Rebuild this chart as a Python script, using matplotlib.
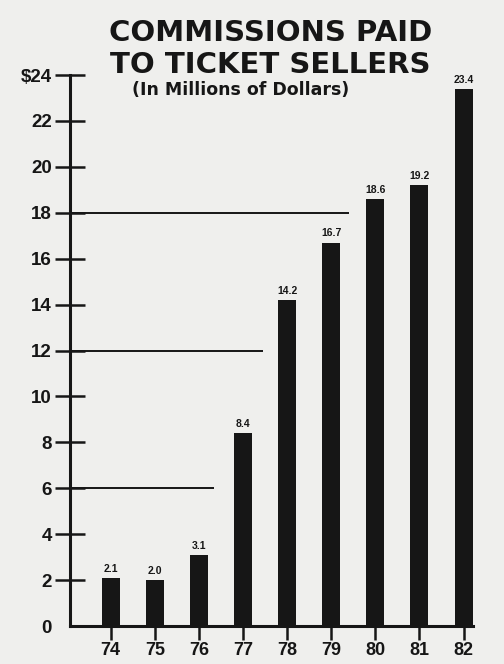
"""Commissions paid to ticket sellers, 1974-82 (newspaper bar chart)."""

import matplotlib

matplotlib.use("Agg")

import matplotlib.pyplot as plt

years = ["74", "75", "76", "77", "78", "79", "80", "81", "82"]
commissions = [2.1, 2.0, 3.1, 8.4, 14.2, 16.7, 18.6, 19.2, 23.4]
value_labels = ["2.1", "2.0", "3.1", "8.4", "14.2", "16.7", "18.6", "19.2", "23.4"]
y_ticks = list(range(0, 25, 2))
y_tick_labels = ["0", "2", "4", "6", "8", "10", "12", "14", "16", "18", "20", "22", "$24"]
# decorative rules: level and where they stop (in bar-index units)
rule_levels = [6, 12, 18]
rule_ends = [2.35, 3.46, 5.41]

PAPER = "#efefed"
INK = "#161616"
FONT = "Liberation Sans"
HEAVY = "DejaVu Sans"

fig = plt.figure(figsize=(5.04, 6.64), dpi=100, facecolor=PAPER)
ax = fig.add_axes((0.139, 0.0572, 0.80, 0.8298), facecolor=PAPER)

x = list(range(len(years)))
ax.bar(x, commissions, width=0.41, color=INK, zorder=3)

for xi, val, txt in zip(x, commissions, value_labels):
    ax.annotate(
        txt,
        xy=(xi, val),
        xytext=(0, 3),
        textcoords="offset points",
        ha="center",
        va="bottom",
        fontsize=7.5,
        fontweight="bold",
        family=FONT,
        color=INK,
    )

x_left = -0.92
for level, end in zip(rule_levels, rule_ends):
    ax.plot([x_left, end], [level, level], color=INK, linewidth=1.4, zorder=2,
            solid_capstyle="butt")

ax.set_xlim(x_left, 8.22)
ax.set_ylim(0, 24)

for side in ("top", "right"):
    ax.spines[side].set_visible(False)
for side in ("left", "bottom"):
    ax.spines[side].set_linewidth(2.2)
    ax.spines[side].set_color(INK)

ax.set_yticks(y_ticks)
ax.set_yticklabels(y_tick_labels)
ax.tick_params(axis="y", direction="inout", length=22, width=1.8, color=INK, pad=2,
               labelsize=13.5, labelcolor=INK)
# no tick mark at zero, matching the original
ax.yaxis.get_major_ticks()[0].tick1line.set_visible(False)

ax.set_xticks(x)
ax.set_xticklabels(years)
ax.tick_params(axis="x", direction="out", length=10, width=1.8, color=INK, pad=1.5,
               labelsize=13, labelcolor=INK)
for lbl in ax.get_xticklabels() + ax.get_yticklabels():
    lbl.set_fontweight("bold")
    lbl.set_family(FONT)

fig.text(0.537, 0.951, "COMMISSIONS PAID", ha="center", va="center",
         fontsize=21, fontweight="bold", family=HEAVY, color=INK)
fig.text(0.537, 0.902, "TO TICKET SELLERS", ha="center", va="center",
         fontsize=21, fontweight="bold", family=HEAVY, color=INK)
fig.text(0.477, 0.864, "(In Millions of Dollars)", ha="center", va="center",
         fontsize=12.5, fontweight="bold", family=HEAVY, color=INK)

fig.savefig("out.png", dpi=100, facecolor=PAPER)
